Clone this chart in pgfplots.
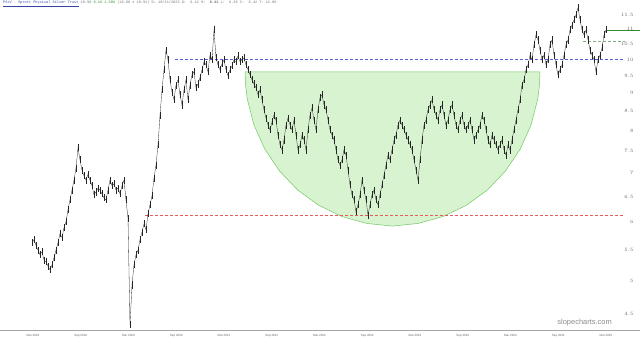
\documentclass[border=0pt]{standalone}
\usepackage{pgfplots}
\usepackage{pgfplotstable}
\pgfplotsset{compat=1.18}
\usepackage{fontspec}
\setmainfont{Liberation Sans}
\newfontfamily\monofont{Liberation Mono}
\definecolor{cupfill}{HTML}{D8F3D0}
\definecolor{cupline}{HTML}{70C860}
\definecolor{bluedash}{HTML}{5A5AD8}
\definecolor{reddash}{HTML}{E85A5A}
\definecolor{greydash}{HTML}{80B080}
\definecolor{lastline}{HTML}{2E8B2E}
\definecolor{titleblue}{HTML}{3344AA}

\pgfplotstableread{
v
5.63
5.68
5.58
5.50
5.42
5.47
5.33
5.30
5.23
5.17
5.25
5.37
5.50
5.63
5.79
5.72
5.90
6.01
6.24
6.44
6.64
6.85
7.11
7.58
7.30
7.07
6.94
6.85
6.98
6.85
6.73
6.54
6.60
6.68
6.64
6.56
6.48
6.44
6.64
6.85
6.73
6.77
6.64
6.68
6.56
6.73
6.85
6.44
6.08
4.35
4.93
5.25
5.42
5.50
5.68
5.82
5.97
5.86
6.16
6.34
6.52
6.89
7.18
7.65
8.40
9.09
9.68
10.30
9.99
9.38
9.03
8.81
9.23
9.38
8.95
8.67
9.09
9.38
8.81
9.23
9.53
9.62
9.15
9.26
9.44
9.68
9.93
9.83
9.62
10.14
9.99
10.97
10.05
9.83
9.68
9.86
9.99
9.68
9.50
9.68
9.80
9.99
9.93
10.11
9.93
9.99
10.05
9.83
9.68
9.53
9.38
9.26
9.15
8.95
9.09
8.81
8.54
8.32
8.14
8.02
8.22
8.40
8.27
7.89
7.65
7.53
7.77
8.14
8.32
8.14
8.02
8.27
7.89
7.53
7.65
7.89
7.77
7.53
8.02
8.40
8.59
8.27
8.02
8.54
8.87
8.95
8.67
8.54
8.27
8.02
7.89
7.77
7.53
7.30
7.18
7.30
7.53
7.41
7.07
6.75
6.54
6.44
6.20
6.34
6.54
6.85
6.64
6.44
6.14
6.34
6.54
6.64
6.44
6.34
6.54
6.75
6.96
7.18
7.41
7.30
7.53
7.77
7.89
8.14
8.27
8.14
8.02
7.89
7.77
7.65
7.53
7.30
7.07
6.85
7.30
7.77
8.14
8.27
8.54
8.67
8.81
8.54
8.40
8.27
8.54
8.67
8.40
8.14
8.27
8.54
8.67
8.40
8.14
8.02
8.27
8.40
8.14
8.02
8.14
8.27
8.02
7.77
7.89
8.02
8.14
8.40
8.27
8.02
7.77
7.65
7.89
7.77
7.65
7.53
7.65
7.77
7.53
7.41
7.65
7.53
7.77
8.02
8.27
8.54
8.81
9.23
9.38
9.68
9.83
10.14
9.99
10.47
10.80
10.63
10.30
9.99
10.14
9.83
9.99
10.47
10.63
10.14
9.83
9.53
9.68
9.83
10.14
10.47
10.63
10.97
11.14
11.32
11.50
11.76
11.32
10.97
10.80
10.97
10.63
10.30
10.14
9.99
9.62
9.99
10.14
10.37
10.80
10.97
}\pricedata

\begin{document}
\begin{tikzpicture}[x=1bp,y=1bp]
\useasboundingbox (0,0) rectangle (640,341);
\begin{axis}[
  at={(0bp,11bp)}, anchor=south west,
  scale only axis, width=640bp, height=330bp,
  xmin=-16, xmax=304,
  ymode=log, ymin=4.281, ymax=12.05,
  axis x line*=bottom, axis y line*=right,
  x axis line style={draw=black!35, -},
  y axis line style={draw=none},
  major tick length=0pt,
  xtick={0.5,24.375,48.25,72.125,96,119.875,143.75,167.625,191.5,215.375,239.25,263.125,287},
  xticklabels={Mar 2019,Sep 2019,Mar 2020,Sep 2020,Mar 2021,Sep 2021,Mar 2022,Sep 2022,Mar 2023,Sep 2023,Mar 2024,Sep 2024,Mar 2025},
  x tick label style={font=\fontsize{3}{3.5}\selectfont, text=black!60, anchor=north, yshift=-1bp},
  ytick={4.5,5,5.5,6,6.5,7,7.5,8,8.5,9,9.5,10,10.5,11,11.5},
  log ticks with fixed point,
  yticklabel pos=right,
  y tick label style={font=\fontsize{3}{3.5}\selectfont, text=black!60, anchor=east, xshift=-3bp,
    /pgf/number format/.cd, fixed, fixed zerofill, precision=1},
  clip=true,
]
% cup
\addplot[fill=cupfill, draw=cupline, line width=0.5bp] coordinates {
(106.5,9.62) (106.8,9.22) (107.6,8.84) (110.95,8.15) (116.4,7.55) (123.75,7.05)
(132.85,6.64) (143.35,6.33) (155,6.11) (167.45,5.98) (180.25,5.93) (193.05,5.98)
(205.5,6.11) (217.15,6.33) (227.65,6.64) (236.75,7.05) (244.1,7.55) (249.55,8.15)
(252.9,8.84) (253.7,9.22) (254,9.62)} -- cycle;
% reference lines
\addplot[bluedash, dash pattern=on 2.5bp off 2.5bp, line width=0.7bp] coordinates {(71.5,10.0) (296.5,10.0)};
\addplot[reddash, dash pattern=on 2.5bp off 2.5bp, line width=0.7bp] coordinates {(56.5,6.14) (296.5,6.14)};
\addplot[greydash, dash pattern=on 2.5bp off 2.5bp, line width=0.7bp] coordinates {(275.5,10.60) (296.5,10.60)};
% price
\addplot[black!85, line width=0.3bp, mark=none,
  error bars/.cd, y dir=both, y fixed relative=0.011, error mark=none,
  error bar style={line width=0.3bp, black!85}]
  table[x expr=\coordindex, y=v] {\pricedata};
% last price line
\addplot[lastline, line width=1bp] coordinates {(287.5,10.95) (304,10.95)};
\end{axis}
\node[anchor=west, inner sep=0pt] at (3,337) {\monofont\fontsize{3.6}{4}\selectfont
  \textcolor{titleblue}{\underline{PSLV - Sprott Physical Silver Trust}}\
  \textcolor{black!55}{10.98}\ \textcolor{lastline}{0.16}\ \textcolor{lastline}{1.50\%}\
  \textcolor{black!55}{(10.98 x 10.91) D: 10/11/2025 O:\ \ 6.42 H:\ \ \textbf{6.43} L:\ \ 6.36 C:\ \ 6.42 T: 12.06}};
\node[anchor=east, inner sep=0pt, text=black!45] at (612,18) {\fontsize{7.5}{8}\selectfont slopecharts.com};
\end{tikzpicture}
\end{document}
